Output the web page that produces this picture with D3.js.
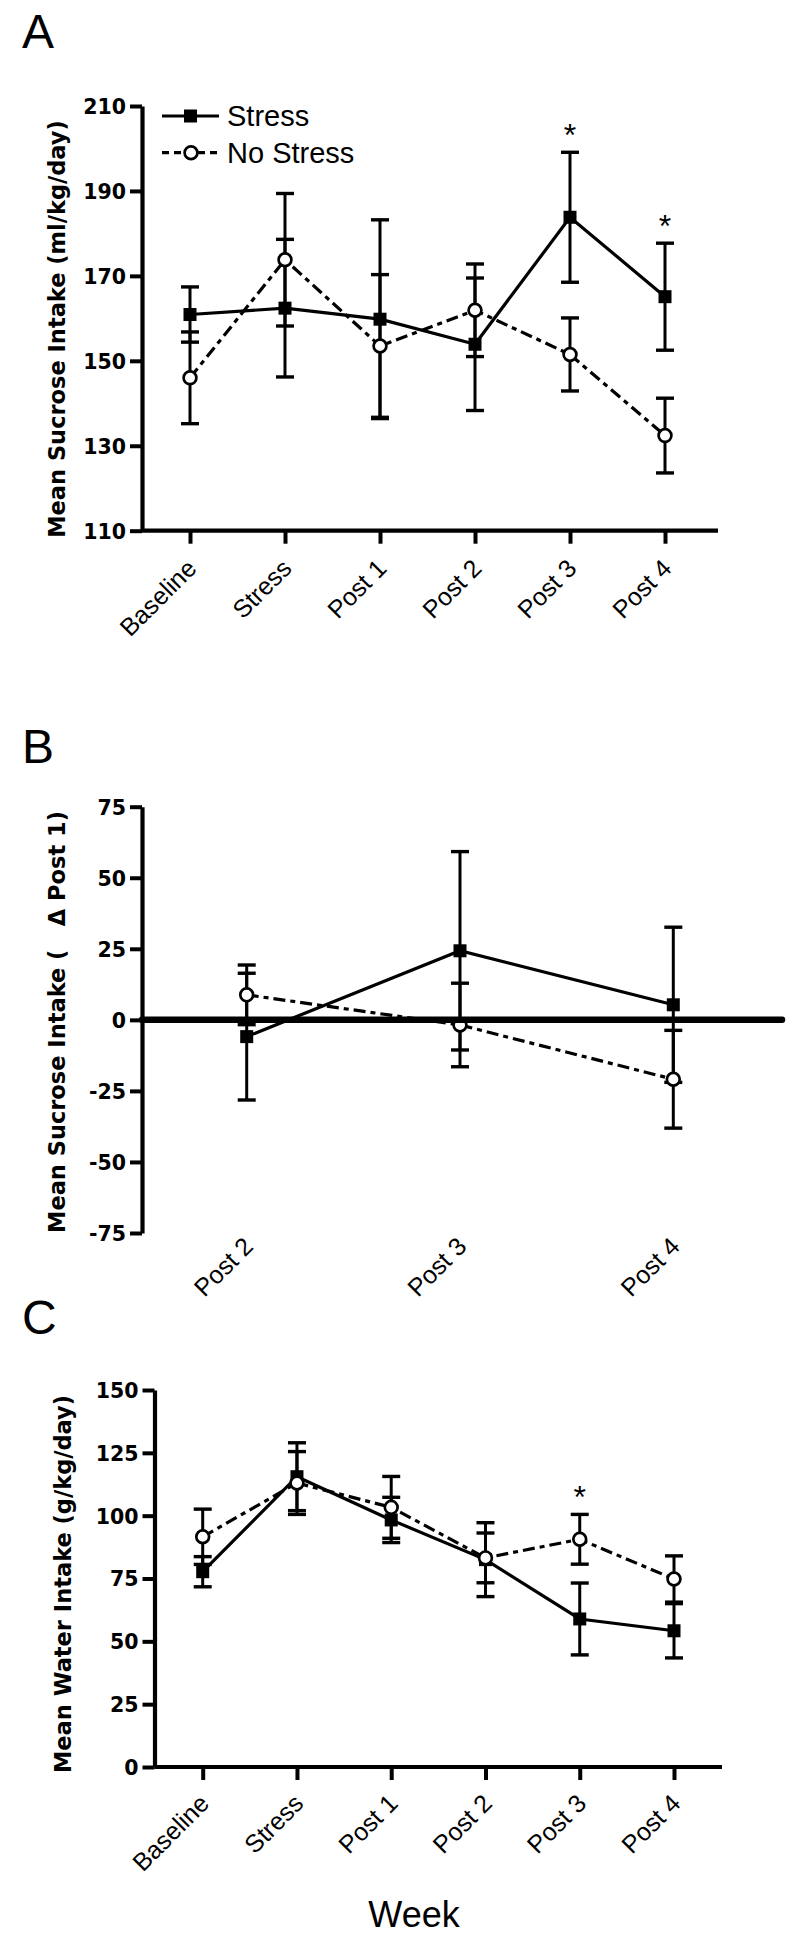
<!DOCTYPE html>
<html><head><meta charset="utf-8">
<script src="https://cdn.jsdelivr.net/npm/d3@7"></script>
<style>
body{margin:0;background:#fff;}
svg text{white-space:pre;}
</style></head>
<body>
<svg id="chart" width="800" height="1941"></svg>
<script>
// ---------- data ----------
const weeks = ["Baseline","Stress","Post 1","Post 2","Post 3","Post 4"];
const deltaWeeks = ["Post 2","Post 3","Post 4"];
const seriesNames = ["Stress","No Stress"];

// Panel A: Mean sucrose intake (ml/kg/day)
const sucroseStress      = [160.9, 162.4, 159.8, 153.9, 183.8, 165.1];
const sucroseStressErr   = [6.5, 16.2, 23.4, 15.6, 15.3, 12.6];
const sucroseNoStress    = [146.0, 173.8, 153.5, 161.9, 151.5, 132.4];
const sucroseNoStressErr = [10.8, 15.6, 16.8, 10.9, 8.6, 8.8];
const sucroseTicks = [110,130,150,170,190,210];
const sucroseSig = ["Post 3","Post 4"];

// Panel B: change from Post 1
const deltaStress      = [-5.9, 24.3, 5.3];
const deltaStressErr   = [22.3, 34.9, 27.3];
const deltaNoStress    = [8.8, -1.8, -20.9];
const deltaNoStressErr = [10.5, 14.7, 17.2];
const deltaTicks = [-75,-50,-25,0,25,50,75];

// Panel C: Mean water intake (g/kg/day)
const waterStress      = [77.7, 115.5, 98.3, 82.5, 58.9, 54.2];
const waterStressErr   = [6.0, 13.5, 9.0, 14.7, 14.3, 10.8];
const waterNoStress    = [91.6, 113.0, 103.3, 83.2, 90.6, 74.8];
const waterNoStressErr = [11.0, 12.5, 12.3, 9.9, 9.9, 9.2];
const waterTicks = [0,25,50,75,100,125,150];
const waterSig = ["Post 3"];

// ---------- drawing ----------
const svg = d3.select("#chart");
const REG = "'Liberation Sans', Arial, sans-serif";
const BOLD = "'DejaVu Sans', sans-serif";
const DASH = "12,5,5,5";

function panel(cfg){
  const g = svg.append("g");
  const x = d3.scalePoint().domain(cfg.cats).range(cfg.xr);
  const y = d3.scaleLinear().domain(cfg.ydom).range(cfg.yr);

  // panel letter
  g.append("text").attr("x",22).attr("y",cfg.letterY).text(cfg.letter)
    .attr("font-family",REG).attr("font-size",48).attr("fill","#000");

  // y axis
  const ya = g.append("g").attr("transform",`translate(${cfg.axisX},0)`)
    .call(d3.axisLeft(y).tickValues(cfg.ticks).tickSize(12).tickSizeOuter(0)
      .tickPadding(4).tickFormat(d=>String(d)));
  ya.select(".domain").attr("stroke","#000").attr("stroke-width",4.2);
  ya.selectAll(".tick line").attr("stroke","#000").attr("stroke-width",4);
  ya.selectAll(".tick text").attr("font-family",BOLD).attr("font-weight","bold")
    .attr("font-size",20.5).attr("fill","#000").attr("dy","0.36em");

  // y title
  g.append("text")
    .attr("transform",`translate(${cfg.titleX},${cfg.titleY}) rotate(-90)`)
    .attr("text-anchor","middle").attr("font-family",BOLD).attr("font-weight","bold")
    .attr("font-size",22.5).attr("fill","#000").text(cfg.title);

  // x axis
  if (cfg.xAxisY != null){
    g.append("line").attr("x1",cfg.axisX).attr("x2",cfg.xEnd)
      .attr("y1",cfg.xAxisY).attr("y2",cfg.xAxisY)
      .attr("stroke","#000").attr("stroke-width",4.2);
    const xa = g.append("g").attr("transform",`translate(0,${cfg.xAxisY})`)
      .call(d3.axisBottom(x).tickSize(13).tickFormat(""));
    xa.select(".domain").remove();
    xa.selectAll(".tick line").attr("stroke","#000").attr("stroke-width",4);
  }
  g.selectAll(".xl").data(cfg.cats).join("text")
    .attr("transform",d=>`translate(${x(d)+8},${cfg.labelY}) rotate(-45)`)
    .attr("text-anchor","end").attr("font-family",REG).attr("font-size",25)
    .attr("fill","#000").text(d=>d);

  const ser = cfg.series.map(s=>({
    name:s.name, dash:s.dash, shape:s.shape,
    pts: cfg.cats.map((c,i)=>({c, v:s.vals[i], e:s.errs[i]}))
  }));

  const line = d3.line().x(d=>x(d.c)).y(d=>y(d.v));
  // connecting lines
  ser.forEach(s=>{
    g.append("path").attr("d",line(s.pts)).attr("fill","none")
      .attr("stroke","#000").attr("stroke-width",3.2)
      .attr("stroke-dasharray",s.dash||null);
  });
  // error bars
  ser.forEach(s=>{
    const eb = g.append("g");
    eb.selectAll(".v").data(s.pts).join("line")
      .attr("x1",d=>x(d.c)).attr("x2",d=>x(d.c))
      .attr("y1",d=>y(d.v-d.e)).attr("y2",d=>y(d.v+d.e))
      .attr("stroke","#000").attr("stroke-width",3);
    ["lo","hi"].forEach(k=>{
      eb.selectAll(".c"+k).data(s.pts).join("line")
        .attr("x1",d=>x(d.c)-9).attr("x2",d=>x(d.c)+9)
        .attr("y1",d=>y(k==="lo"?d.v-d.e:d.v+d.e))
        .attr("y2",d=>y(k==="lo"?d.v-d.e:d.v+d.e))
        .attr("stroke","#000").attr("stroke-width",3.4);
    });
  });
  // markers
  ser.forEach(s=>{
    if (s.shape==="square"){
      g.selectAll(null).data(s.pts).join("rect")
        .attr("x",d=>x(d.c)-6.5).attr("y",d=>y(d.v)-6.5)
        .attr("width",13).attr("height",13).attr("fill","#000");
    } else {
      g.selectAll(null).data(s.pts).join("circle")
        .attr("cx",d=>x(d.c)).attr("cy",d=>y(d.v)).attr("r",6.4)
        .attr("fill","#fff").attr("stroke","#000").attr("stroke-width",2.7);
    }
  });

  // zero line (panel B)
  if (cfg.zeroLine){
    g.append("line").attr("x1",cfg.axisX).attr("x2",cfg.xEnd)
      .attr("y1",y(0)).attr("y2",y(0))
      .attr("stroke","#000").attr("stroke-width",6.5).attr("stroke-linecap","round");
  }

  // significance asterisks
  if (cfg.sig){
    g.selectAll(".sig").data(cfg.sig).join("text")
      .attr("x",d=>x(d))
      .attr("y",d=>{
        const i = cfg.cats.indexOf(d);
        const top = d3.max(cfg.series, s=>s.vals[i]+s.errs[i]);
        return y(top) - 24 + 18;
      })
      .attr("text-anchor","middle").attr("font-family",REG).attr("font-size",32)
      .attr("fill","#000").text("*");
  }
  return {x,y,g};
}

// Panel A
const A = panel({
  letter:"A", letterY:48, cats:weeks, xr:[190,665], ydom:[110,210], yr:[530.7,106],
  axisX:142, xEnd:718, xAxisY:530.7, labelY:570, ticks:sucroseTicks,
  title:"Mean Sucrose Intake (ml/kg/day)", titleX:65, titleY:329,
  sig:sucroseSig,
  series:[
    {name:seriesNames[0], vals:sucroseStress, errs:sucroseStressErr, shape:"square"},
    {name:seriesNames[1], vals:sucroseNoStress, errs:sucroseNoStressErr, shape:"circle", dash:DASH}
  ]
});

// legend (panel A)
const leg = svg.append("g");
const legendRows = [{name:seriesNames[0], shape:"square", y:116},
                    {name:seriesNames[1], shape:"circle", y:152.7, dash:"7,5"}];
legendRows.forEach(r=>{
  leg.append("line").attr("x1",162).attr("x2",219).attr("y1",r.y).attr("y2",r.y)
    .attr("stroke","#000").attr("stroke-width",3.2).attr("stroke-dasharray",r.dash||null);
  if (r.shape==="square"){
    leg.append("rect").attr("x",184).attr("y",r.y-6.5).attr("width",13).attr("height",13).attr("fill","#000");
  } else {
    leg.append("circle").attr("cx",191).attr("cy",r.y).attr("r",6.4)
      .attr("fill","#fff").attr("stroke","#000").attr("stroke-width",2.7);
  }
  leg.append("text").attr("x",227).attr("y",r.y+10).text(r.name)
    .attr("font-family",REG).attr("font-size",29).attr("fill","#000");
});

// Panel B
const B = panel({
  letter:"B", letterY:763, cats:deltaWeeks, xr:[246.7,673.3], ydom:[-75,75], yr:[1233,806.7],
  axisX:142, xEnd:782, xAxisY:null, labelY:1248, ticks:deltaTicks, zeroLine:true,
  title:"Mean Sucrose Intake (   \u0394 Post 1)", titleX:65, titleY:1022,
  series:[
    {name:seriesNames[0], vals:deltaStress, errs:deltaStressErr, shape:"square"},
    {name:seriesNames[1], vals:deltaNoStress, errs:deltaNoStressErr, shape:"circle", dash:DASH}
  ]
});

// Panel C
const C = panel({
  letter:"C", letterY:1334, cats:weeks, xr:[202.7,674], ydom:[0,150], yr:[1767,1390],
  axisX:154.5, xEnd:722, xAxisY:1767, labelY:1805, ticks:waterTicks,
  title:"Mean Water Intake (g/kg/day)", titleX:71, titleY:1584,
  sig:waterSig,
  series:[
    {name:seriesNames[0], vals:waterStress, errs:waterStressErr, shape:"square"},
    {name:seriesNames[1], vals:waterNoStress, errs:waterNoStressErr, shape:"circle", dash:DASH}
  ]
});

svg.append("text").attr("x",414).attr("y",1927).attr("text-anchor","middle")
  .attr("font-family",REG).attr("font-size",36).attr("fill","#000").text("Week");
</script>
</body></html>
